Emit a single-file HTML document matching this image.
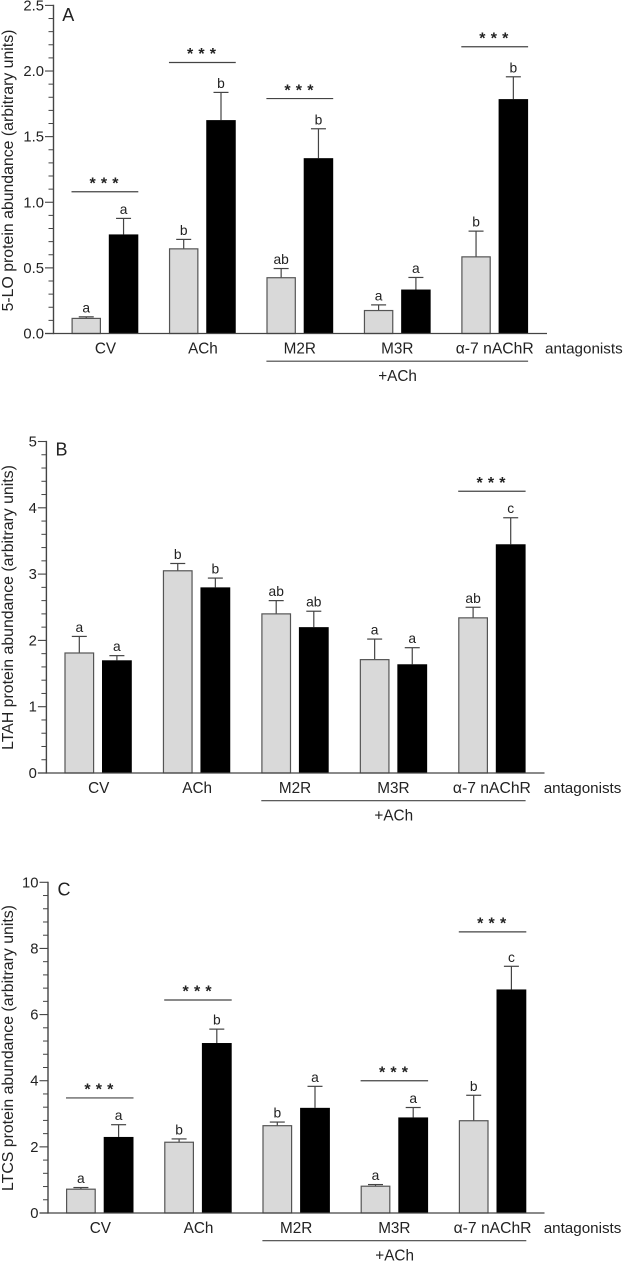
<!DOCTYPE html>
<html lang="en">
<head>
<meta charset="utf-8">
<title>Protein abundance bar charts</title>
<style>
html,body{margin:0;padding:0;background:#fff;}
body{width:623px;height:1261px;overflow:hidden;}
svg{display:block;}
text{font-family:"Liberation Sans",Arial,sans-serif;fill:#222;}
</style>
</head>
<body>
<svg id="figure" xmlns="http://www.w3.org/2000/svg" width="623" height="1261" viewBox="0 0 623 1261"></svg>
<script>
const categories = ['CV', 'ACh', 'M2R', 'M3R', 'α-7 nAChR'];

const aTickLabels = ['0.0', '0.5', '1.0', '1.5', '2.0', '2.5'];
const aTickValues = [0, 0.5, 1, 1.5, 2, 2.5];
const aGray = [0.115, 0.645, 0.425, 0.175, 0.584];
const aGrayTop = [0.127, 0.717, 0.495, 0.218, 0.78];
const aBlack = [0.755, 1.626, 1.336, 0.335, 1.786];
const aBlackTop = [0.877, 1.837, 1.56, 0.427, 1.956];
const aGrayLetters = ['a', 'b', 'ab', 'a', 'b'];
const aBlackLetters = ['a', 'b', 'b', 'a', 'b'];
const aSigGroups = [0, 1, 2, 4];
const aSigLevels = [1.08, 2.065, 1.79, 2.185];

const bTickLabels = ['0', '1', '2', '3', '4', '5'];
const bTickValues = [0, 1, 2, 3, 4, 5];
const bGray = [1.81, 3.05, 2.40, 1.71, 2.34];
const bGrayTop = [2.06, 3.16, 2.60, 2.02, 2.50];
const bBlack = [1.70, 2.80, 2.20, 1.64, 3.45];
const bBlackTop = [1.77, 2.94, 2.44, 1.89, 3.85];
const bGrayLetters = ['a', 'b', 'ab', 'a', 'ab'];
const bBlackLetters = ['a', 'b', 'ab', 'a', 'c'];
const bSigGroups = [4];
const bSigLevels = [4.25];

const cTickLabels = ['0', '2', '4', '6', '8', '10'];
const cTickValues = [0, 2, 4, 6, 8, 10];
const cGray = [0.72, 2.14, 2.64, 0.81, 2.79];
const cGrayTop = [0.77, 2.24, 2.75, 0.86, 3.56];
const cBlack = [2.30, 5.14, 3.18, 2.89, 6.76];
const cBlackTop = [2.67, 5.56, 3.83, 3.19, 7.46];
const cGrayLetters = ['a', 'b', 'b', 'a', 'b'];
const cBlackLetters = ['a', 'b', 'a', 'a', 'c'];
const cSigGroups = [0, 1, 3, 4];
const cSigLevels = [3.48, 6.44, 4.0, 8.5];

const svg = document.getElementById('figure');
const NS = 'http://www.w3.org/2000/svg';
const LINE = '#444';

function shape(tag, attrs) {
  const el = document.createElementNS(NS, tag);
  for (const k in attrs) el.setAttribute(k, attrs[k]);
  svg.appendChild(el);
  return el;
}

function label(str, attrs) {
  const el = shape('text', attrs);
  el.textContent = str;
  return el;
}

function drawPanel(p) {
  const yMax = p.tickValues[p.tickValues.length - 1];
  const y = v => p.y0 - (v / yMax) * (p.y0 - p.yTop);
  const xGray = i => p.grayStart + i * p.step;
  const xBlack = i => xGray(i) + p.blackOffset;
  const W = p.barWidth;

  // bars and error bars
  categories.forEach((cat, i) => {
    [
      {x: xGray(i), v: p.gray[i], top: p.grayTop[i], letter: p.grayLetters[i], dark: false},
      {x: xBlack(i), v: p.black[i], top: p.blackTop[i], letter: p.blackLetters[i], dark: true}
    ].forEach(d => {
      const cx = d.x + W / 2;
      const stem = shape('line', {x1: cx, x2: cx, y1: y(d.v), y2: y(d.top), stroke: LINE, 'stroke-width': 1.2});
      
      
      const cap = shape('line', {x1: cx - 7.5, x2: cx + 7.5, y1: y(d.top), y2: y(d.top), stroke: LINE, 'stroke-width': 1.2});
      
      
      const bar = d.dark
        ? shape('rect', {x: d.x, y: y(d.v), width: W, height: p.y0 - y(d.v), fill: '#000'})
        : shape('rect', {x: d.x + 0.6, y: y(d.v), width: W - 1.2, height: p.y0 - y(d.v), fill: '#d9d9d9', stroke: '#555', 'stroke-width': 1.2});
      
      
      const letter = label(d.letter, {x: cx, y: y(d.top) - 4.5, 'text-anchor': 'middle', 'font-size': 13.8});
      
      
    });
  });

  // axes
  const yAxis = shape('line', {x1: p.axisX, x2: p.axisX, y1: y(yMax) - 0.6, y2: p.y0 + 0.6, stroke: LINE, 'stroke-width': 1.4});
  
  
  const xAxis = shape('line', {x1: p.axisX - 8.5, x2: p.axisEnd, y1: p.y0, y2: p.y0, stroke: LINE, 'stroke-width': 1.2});
  
  

  p.tickValues.forEach((v, i) => {
    const tick = shape('line', {x1: p.axisX - 8.5, x2: p.axisX, y1: y(v), y2: y(v), stroke: LINE, 'stroke-width': 1.1});
    
    
    const tl = label(p.tickLabels[i], {x: p.axisX - 9.5, y: y(v) + 5, 'text-anchor': 'end', 'font-size': 14.8});
    
    
    if (i < p.tickValues.length - 1) {
      for (let m = 1; m < 5; m++) {
        const mv = v + (p.tickValues[i + 1] - v) * m / 5;
        const minor = shape('line', {x1: p.axisX - 5, x2: p.axisX, y1: y(mv), y2: y(mv), stroke: LINE, 'stroke-width': 1});
        
        
      }
    }
  });

  // y title
  const title = label(p.yTitle, {transform: 'translate(12.8,' + p.titleCy + ') rotate(-90)', 'text-anchor': 'middle', 'font-size': 15.85});
  
  

  // panel letter
  const panelLetter = label(p.letter, {x: p.letterX, y: p.letterY, 'font-size': 18});
  
  

  // category labels
  categories.forEach((cat, i) => {
    const c = label(cat, {x: (xGray(i) + xBlack(i) + W) / 2 + (i === 0 || i === 1 ? 0.6 : 0), y: p.y0 + 20, 'text-anchor': 'middle', 'font-size': i === 4 ? 15.7 : 15.3});
    
    
  });
  const ant = label('antagonists', {x: p.antX, y: p.y0 + 20, 'font-size': 15.2});
  
  

  // +ACh bracket
  const bracket = shape('line', {x1: xGray(2), x2: xBlack(4) + W, y1: p.y0 + 27.7, y2: p.y0 + 27.7, stroke: LINE, 'stroke-width': 1.2});
  
  
  const ach = label('+ACh', {x: (xGray(3) + xBlack(3) + W) / 2 + 0.3, y: p.y0 + 47.7, 'text-anchor': 'middle', 'font-size': 15.3});
  
  

  // significance bars
  p.sigGroups.forEach((g, i) => {
    const x1 = xGray(g), x2 = xBlack(g) + W, ly = y(p.sigLevels[i]), mid = (x1 + x2) / 2;
    const sl = shape('line', {x1: x1, x2: x2, y1: ly, y2: ly, stroke: LINE, 'stroke-width': 1.2});
    
    
    const st = label('***', {x: [mid - 15.4, mid - 4, mid + 7.4].join(' '), y: ly - 3.3, 'font-size': 16, 'font-weight': 'bold'});
    
    
  });
}

drawPanel({
  letter: 'A', letterX: 62.3, letterY: 21,
  yTitle: '5-LO protein abundance (arbitrary units)', titleCy: 170.5,
  y0: 333.5, yTop: 5.4, axisX: 53.5, axisEnd: 547,
  grayStart: 71.5, step: 97.45, blackOffset: 37.3, barWidth: 29.5, antX: 545,
  tickValues: aTickValues, tickLabels: aTickLabels,
  gray: aGray, grayTop: aGrayTop, black: aBlack, blackTop: aBlackTop,
  grayLetters: aGrayLetters, blackLetters: aBlackLetters,
  sigGroups: aSigGroups, sigLevels: aSigLevels
});
drawPanel({
  letter: 'B', letterX: 55.5, letterY: 455.3,
  yTitle: 'LTAH protein abundance (arbitrary units)', titleCy: 607.5,
  y0: 773, yTop: 441.5, axisX: 46.4, axisEnd: 544.5,
  grayStart: 64.4, step: 98.45, blackOffset: 37.6, barWidth: 29.8, antX: 543.7,
  tickValues: bTickValues, tickLabels: bTickLabels,
  gray: bGray, grayTop: bGrayTop, black: bBlack, blackTop: bBlackTop,
  grayLetters: bGrayLetters, blackLetters: bBlackLetters,
  sigGroups: bSigGroups, sigLevels: bSigLevels
});
drawPanel({
  letter: 'C', letterX: 57.5, letterY: 895.7,
  yTitle: 'LTCS protein abundance (arbitrary units)', titleCy: 1048,
  y0: 1213, yTop: 882.3, axisX: 48, axisEnd: 544.5,
  grayStart: 66, step: 98.2, blackOffset: 37.7, barWidth: 29.8, antX: 543.7,
  tickValues: cTickValues, tickLabels: cTickLabels,
  gray: cGray, grayTop: cGrayTop, black: cBlack, blackTop: cBlackTop,
  grayLetters: cGrayLetters, blackLetters: cBlackLetters,
  sigGroups: cSigGroups, sigLevels: cSigLevels
});
</script>
</body>
</html>
